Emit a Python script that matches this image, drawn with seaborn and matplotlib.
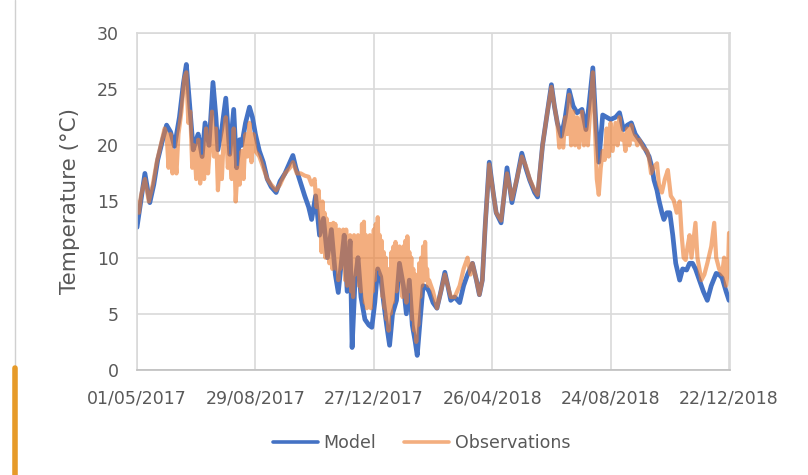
import numpy as np
import pandas as pd
import matplotlib
matplotlib.use("Agg")
import matplotlib.pyplot as plt
import seaborn as sns

# ---- data (day offset from 01/05/2017, temperature in °C) ----
start_date = "2017-05-01"

model_day = [0, 3, 8, 13, 17, 21, 26, 30, 34, 38, 43, 47, 50, 53, 57, 60, 62, 66, 69, 73,
             77, 80, 82, 86, 90, 94, 98, 101, 104, 106, 110, 114, 117, 120, 124, 128, 132, 136,
             141, 145, 150, 155, 158, 161, 165, 170, 174, 177, 181, 185, 189, 193, 197, 201,
             204, 207, 210, 213, 216, 218, 221, 224, 227, 231, 235, 238, 241, 244, 247, 250,
             253, 256, 259, 263, 266, 270, 273, 276, 279, 282, 284, 287, 290, 293, 296, 300,
             304, 308, 312, 315, 318, 322, 327, 331, 335, 340, 344, 347, 350, 353, 357, 361,
             364, 369, 372, 375, 380, 385, 390, 394, 398, 403, 406, 411, 416, 420, 423, 426,
             430, 434, 438, 442, 446, 451, 455, 458, 462, 465, 468, 472, 476, 480, 485, 489,
             493, 497, 501, 505, 509, 513, 519, 522, 524, 527, 529, 532, 534, 537, 540, 543,
             546, 550, 553, 557, 560, 563, 566, 570, 574, 578, 582, 587, 590, 593, 597, 600]
model_temp = [12.7, 14.5, 17.5, 14.9, 16.5, 18.7, 20.5, 21.8, 21.2, 19.9, 22.5, 25.5, 27.2, 24.0,
              19.6, 20.5, 21.0, 19.0, 22.0, 20.0, 25.6, 22.5, 19.6, 21.5, 24.2, 19.2, 23.2, 18.0,
              20.5, 20.0, 22.0, 23.4, 22.5, 21.0, 19.5, 18.5, 17.0, 16.3, 15.8, 16.8, 17.5, 18.5,
              19.1, 18.0, 16.9, 15.5, 14.5, 13.4, 15.5, 12.0, 13.5, 10.0, 12.5, 8.5, 6.9, 9.5,
              12.0, 7.0, 11.5, 2.0, 8.0, 10.0, 6.5, 4.5, 4.0, 3.8, 6.0, 9.0, 8.3, 6.0, 4.0, 2.2,
              5.0, 6.2, 9.5, 7.5, 5.0, 8.0, 4.0, 2.5, 1.3, 4.5, 7.5, 7.4, 7.0, 6.0, 5.5, 7.0, 8.7,
              7.5, 6.2, 6.5, 6.0, 7.5, 8.5, 9.5, 8.0, 6.7, 8.0, 13.0, 18.5, 15.8, 14.0, 13.1,
              15.5, 18.0, 14.9, 17.0, 19.3, 18.0, 16.9, 15.8, 15.4, 20.0, 23.0, 25.4, 23.5, 22.0,
              20.8, 22.5, 24.9, 23.5, 22.9, 23.2, 21.4, 23.5, 26.9, 22.0, 18.5, 22.7, 22.5, 22.3,
              22.5, 22.9, 21.4, 21.8, 22.0, 21.0, 20.5, 20.0, 19.0, 18.0, 16.9, 16.0, 15.1, 14.0,
              13.4, 14.0, 14.0, 12.0, 9.5, 8.0, 9.0, 8.9, 9.5, 9.5, 9.0, 8.0, 7.0, 6.2, 7.5, 8.6,
              8.5, 8.2, 7.0, 6.2]

# observations: summer / autumn 2017
obs_day_a = [0, 2, 4, 8, 12, 16, 20, 24, 28, 30, 32, 34, 36, 38, 40, 42, 45, 48, 50, 52, 54,
             56, 58, 60, 62, 64, 66, 68, 70, 72, 74, 76, 78, 80, 82, 84, 86, 88, 90, 92, 94, 96,
             98, 100, 102, 104, 106, 108, 110, 112, 114, 116, 118, 120, 124, 128, 132, 136, 141,
             145, 150, 155, 158, 162, 166, 170, 174, 177, 180, 182, 184]
obs_temp_a = [15.0, 14.0, 15.5, 17.0, 15.0, 16.5, 18.5, 20.0, 21.5, 21.0, 18.0, 21.0, 17.5,
              19.5, 17.5, 21.0, 23.0, 26.0, 26.5, 22.0, 23.0, 18.0, 20.0, 17.0, 20.5, 16.6,
              19.0, 17.0, 21.5, 17.5, 20.0, 23.0, 19.0, 21.5, 16.0, 19.0, 17.0, 21.0, 22.5,
              18.0, 19.0, 17.0, 21.5, 15.0, 18.0, 16.5, 19.5, 17.0, 21.0, 19.0, 22.0, 18.5,
              21.0, 19.5, 19.0, 18.0, 17.0, 16.5, 16.0, 16.5, 17.5, 18.0, 18.5, 17.5, 17.5,
              17.3, 17.2, 16.5, 17.0, 14.5, 16.0]
# observations: winter 2017-18, daily (days 186..296)
obs_day_b = list(range(186, 297))
obs_temp_b = [13.0, 10.5, 15.0, 12.0, 14.0, 10.0, 13.5, 10.5, 13.0, 9.5,
              13.0, 11.5, 9.0, 13.1, 11.0, 13.0, 9.0, 12.0, 8.0, 12.5,
              9.0, 12.0, 10.0, 12.5, 11.5, 8.0, 12.5, 7.5, 11.5, 9.0,
              12.0, 7.0, 11.0, 6.5, 12.0, 8.5, 11.5, 9.5, 12.0, 7.5,
              11.0, 7.0, 13.0, 8.0, 13.2, 6.0, 12.0, 5.5, 11.0, 6.0,
              12.0, 5.5, 11.5, 7.0, 12.5, 8.0, 13.0, 9.0, 13.6, 9.5,
              12.0, 8.5, 11.5, 6.5, 10.5, 5.5, 10.0, 4.5, 9.0, 3.5,
              8.0, 5.0, 10.5, 6.0, 11.0, 7.5, 11.4, 7.0, 10.5, 9.0,
              11.0, 8.0, 10.5, 6.5, 11.0, 7.5, 11.5, 6.0, 11.9, 8.5,
              10.5, 7.0, 10.0, 4.5, 9.0, 3.5, 8.5, 2.5, 7.5, 4.0,
              9.5, 6.5, 10.0, 7.5, 11.0, 8.0, 11.4, 8.0, 9.0, 7.5,
              8.0]
# observations: spring 2018 - end
obs_day_c = [300, 304, 308, 312, 315, 318, 322, 327, 331, 335, 338, 340, 344, 347, 350, 353,
             357, 361, 364, 369, 372, 375, 380, 385, 390, 394, 398, 403, 406, 411, 416, 420,
             423, 426, 428, 430, 432, 434, 436, 438, 440, 442, 444, 446, 448, 451, 453, 455,
             457, 460, 462, 464, 466, 468, 470, 472, 474, 476, 478, 480, 482, 485, 487, 489,
             491, 493, 495, 497, 499, 501, 503, 505, 507, 509, 513, 517, 519, 521, 524, 527,
             529, 532, 535, 538, 541, 544, 547, 550, 552, 554, 556, 558, 560, 562, 566, 568,
             570, 572, 575, 578, 582, 585, 587, 590, 593, 595, 597, 599, 600]
obs_temp_c = [7.0, 5.5, 7.0, 8.5, 7.5, 6.5, 6.5, 7.5, 9.0, 10.0, 8.5, 9.5, 8.0, 6.7, 8.0, 13.0,
              18.3, 15.8, 14.0, 13.3, 15.5, 17.5, 15.2, 17.0, 19.0, 18.2, 17.0, 16.0, 15.6,
              20.0, 23.0, 25.2, 23.5, 22.0, 19.8, 20.5, 19.8, 22.5, 21.0, 24.5, 20.0, 23.0,
              20.0, 22.5, 19.8, 23.0, 20.0, 21.4, 20.0, 24.0, 26.5, 22.0, 17.0, 15.6, 18.0,
              19.5, 18.7, 21.5, 19.0, 22.0, 19.5, 22.0, 20.0, 22.5, 20.5, 21.0, 19.5, 21.5,
              20.0, 21.8, 20.5, 20.8, 20.0, 20.5, 19.8, 19.5, 18.8, 17.5, 18.1, 18.4, 16.5,
              15.8, 17.0, 17.8, 15.5, 15.1, 14.0, 15.0, 12.0, 10.0, 9.8, 11.0, 12.0, 10.0,
              13.1, 10.0, 9.0, 8.0, 8.5, 9.5, 11.0, 13.1, 10.0, 9.0, 8.5, 10.0, 7.5, 9.0, 12.2]

tick_labels = ["01/05/2017", "29/08/2017", "27/12/2017", "26/04/2018", "24/08/2018", "22/12/2018"]
y_ticks = [0, 5, 10, 15, 20, 25, 30]

# ---- build frames ----
t0 = pd.Timestamp(start_date)
model_df = pd.DataFrame({"date": t0 + pd.to_timedelta(model_day, unit="D"), "temp": model_temp})
obs_day = obs_day_a + obs_day_b + obs_day_c
obs_temp = obs_temp_a + obs_temp_b + obs_temp_c
obs_df = pd.DataFrame({"date": t0 + pd.to_timedelta(obs_day, unit="D"), "temp": obs_temp})

sns.set_style("white")
plt.rcParams["font.family"] = ["DejaVu Sans"]

fig = plt.figure(figsize=(8.08, 4.75), dpi=100)
ax = fig.add_axes([137 / 808, 1 - 370 / 475, (730 - 137) / 808, (370 - 33) / 475])

grid_c = "#D9D9D9"
text_c = "#595959"

sns.lineplot(data=model_df, x="date", y="temp", ax=ax, color="#4472C4", linewidth=3.4,
             label="Model")
sns.lineplot(data=obs_df, x="date", y="temp", ax=ax, color="#ED7D31", alpha=0.62,
             linewidth=3.0, label="Observations")

tick_dates = [pd.to_datetime(s, format="%d/%m/%Y") for s in tick_labels]
ax.set_xlim(tick_dates[0], tick_dates[-1] + pd.Timedelta(days=1))
ax.set_xticks(tick_dates)
ax.set_xticklabels(tick_labels)
ax.set_ylim(0, 30)
ax.set_yticks(y_ticks)
ax.set_yticklabels([str(v) for v in y_ticks])

ax.grid(True, color=grid_c, linewidth=1.2)
ax.set_axisbelow(True)
for s in ax.spines.values():
    s.set_color(grid_c)
    s.set_linewidth(1.2)
ax.spines["bottom"].set_color("#BFBFBF")

ax.tick_params(axis="both", length=0, colors=text_c, labelsize=12.5)
ax.tick_params(axis="x", pad=14)
ax.tick_params(axis="y", pad=13)
ax.set_xlabel("")
ax.set_ylabel("Temperature (°C)", fontsize=15.5, color=text_c, labelpad=12)

leg = ax.legend(loc="upper center", bbox_to_anchor=(0.48, -0.145), ncol=2, frameon=False,
                fontsize=12.5, handlelength=2.6, columnspacing=1.6, handletextpad=0.3)
for t in leg.get_texts():
    t.set_color(text_c)
for h in leg.get_lines():
    h.set_linewidth(2.6)

# screenshot frame decoration
fig.add_artist(plt.Line2D([15 / 808, 15 / 808], [1 - 365 / 475, 1.0], transform=fig.transFigure,
                          color="#D0D0D0", linewidth=1.0))
fig.add_artist(plt.Line2D([15 / 808, 15 / 808], [0.0, 1 - 368 / 475], transform=fig.transFigure,
                          color="#E69A28", linewidth=4.0))

fig.savefig("out.png", dpi=100, facecolor="white")
